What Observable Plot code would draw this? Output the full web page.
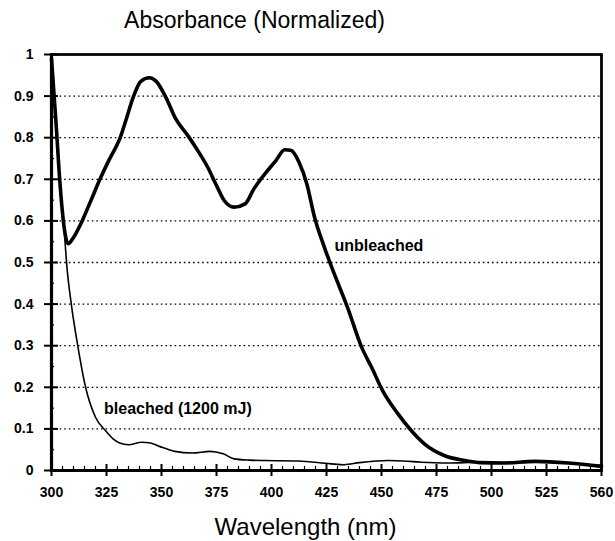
<!DOCTYPE html>
<html><head><meta charset="utf-8">
<script src="https://cdn.jsdelivr.net/npm/d3@7"></script>
<script src="https://cdn.jsdelivr.net/npm/@observablehq/plot@0.6"></script>
<style>body{margin:0;background:#fff}</style>
</head><body><div id="chart"></div>
<script>
// Wavelength (nm) / normalized absorbance
const unbleachedX = [300, 302, 304, 306, 307.5, 310, 313.5, 318, 322, 326.5, 331, 334, 337, 340.5, 344.5, 347.5, 352, 356.5, 362, 366.5, 371, 375, 378.5, 383, 388, 392, 397, 402, 406, 409, 412.5, 416, 419.5, 424, 428.5, 434.5, 441, 445.5, 450.5, 457.5, 463.5, 469.5, 478.5, 488, 495, 505, 520, 535, 550];
const unbleachedY = [0.99, 0.84, 0.68, 0.575, 0.545, 0.56, 0.595, 0.65, 0.70, 0.75, 0.797, 0.845, 0.895, 0.935, 0.944, 0.936, 0.897, 0.845, 0.805, 0.769, 0.729, 0.685, 0.649, 0.633, 0.641, 0.677, 0.713, 0.745, 0.771, 0.769, 0.741, 0.69, 0.61, 0.537, 0.473, 0.393, 0.296, 0.248, 0.192, 0.136, 0.096, 0.064, 0.036, 0.024, 0.019, 0.018, 0.022, 0.018, 0.01];
const bleachedX = [300, 302, 304, 306, 307, 309, 312, 315.5, 320, 324.5, 328, 331, 335, 341, 345, 349, 356, 364, 372, 378, 383, 390, 397, 412, 427, 433, 440, 453, 460, 468, 480, 495, 505, 520, 535, 550];
const bleachedY = [0.99, 0.84, 0.68, 0.56, 0.49, 0.40, 0.298, 0.20, 0.128, 0.096, 0.076, 0.066, 0.062, 0.068, 0.066, 0.058, 0.046, 0.042, 0.046, 0.04, 0.028, 0.025, 0.024, 0.023, 0.016, 0.014, 0.019, 0.024, 0.023, 0.02, 0.018, 0.02, 0.019, 0.022, 0.018, 0.012];

const xDomain = [300, 550];
const yDomain = [0, 1];
const xTicks = [300, 325, 350, 375, 400, 425, 450, 475, 500, 525, 550];
const xTickLabels = ["300", "325", "350", "375", "400", "425", "450", "475", "500", "525", "560"];
const yTicks = [0, 0.1, 0.2, 0.3, 0.4, 0.5, 0.6, 0.7, 0.8, 0.9, 1];
const yTickLabels = ["0", "0.1", "0.2", "0.3", "0.4", "0.5", "0.6", "0.7", "0.8", "0.9", "1"];
const gridValues = [0.1, 0.2, 0.3, 0.4, 0.5, 0.6, 0.7, 0.8, 0.9];
const xMinorTicks = d3.range(300, 551, 5).filter(v => v % 25 !== 0);
const yMinorTicks = [0.05, 0.15, 0.25, 0.35, 0.45, 0.55, 0.65, 0.75, 0.85, 0.95];

const seriesLabels = ["unbleached", "bleached (1200 mJ)"];
const seriesLabelX = [428.6, 323.9];
const seriesLabelY = [0.541, 0.147];

const titleText = "Absorbance (Normalized)";
const xLabelText = "Wavelength (nm)";

const W = 615, H = 541, mL = 51, mR = 14, mT = 54, mB = 71;
const frameW = W - mL - mR, frameH = H - mT - mB;

const unbleached = unbleachedX.map((x, i) => ({x, y: unbleachedY[i]}));
const bleached = bleachedX.map((x, i) => ({x, y: bleachedY[i]}));
const labels = seriesLabels.map((t, i) => ({t, x: seriesLabelX[i], y: seriesLabelY[i]}));
// plot border, from the scale domains
const border = [[xDomain[0], yDomain[1]], [xDomain[1], yDomain[1]], [xDomain[1], yDomain[0]]];
const axesL = [[xDomain[0], yDomain[1]], [xDomain[0], yDomain[0]], [xDomain[1], yDomain[0]]];

const chart = Plot.plot({
  width: W, height: H,
  marginLeft: mL, marginRight: mR, marginTop: mT, marginBottom: mB,
  x: {domain: xDomain},
  y: {domain: yDomain},
  style: "font-family: Liberation Sans, Arial, sans-serif; background: #fff; color: #000;",
  marks: [
    Plot.ruleY(gridValues, {y: d => d, stroke: "#000", strokeWidth: 1.3, strokeDasharray: "1.6,3", insetLeft: 4}),
    Plot.frame({stroke: "#000", strokeWidth: 2.5}),
    Plot.line(border, {x: d => d[0], y: d => d[1], stroke: "#000", strokeWidth: 2.2}),
    Plot.line(axesL, {x: d => d[0], y: d => d[1], stroke: "#000", strokeWidth: 3.2}),
    Plot.axisX({ticks: xTicks, tickFormat: d => xTickLabels[xTicks.indexOf(d)], tickSize: 6, tickPadding: 11,
      fontSize: 14, fontWeight: "bold", label: null, stroke: "#000", strokeWidth: 2}),
    Plot.tickX(xTicks, {x: d => d, insetTop: frameH - 6, stroke: "#000", strokeWidth: 2}),
    Plot.tickX(xMinorTicks, {x: d => d, insetTop: frameH - 4, stroke: "#000", strokeWidth: 1.2}),
    Plot.axisY({ticks: yTicks, tickFormat: d => yTickLabels[yTicks.indexOf(d)], tickSize: 7, tickPadding: 11,
      fontSize: 14, fontWeight: "bold", label: null, stroke: "#000", strokeWidth: 2}),
    Plot.tickY(yTicks, {y: d => d, insetRight: frameW - 7, stroke: "#000", strokeWidth: 2}),
    Plot.tickY(yMinorTicks, {y: d => d, insetRight: frameW - 3, stroke: "#000", strokeWidth: 1.2}),
    Plot.line(bleached, {x: "x", y: "y", stroke: "#000", strokeWidth: 1.6, curve: "monotone-x"}),
    Plot.line(unbleached, {x: "x", y: "y", stroke: "#000", strokeWidth: 3.6, curve: "monotone-x"}),
    Plot.text(labels, {x: "x", y: "y", text: "t", textAnchor: "start", lineAnchor: "middle",
      fontSize: 16, fontWeight: "bold", fill: "#000"}),
    Plot.text([titleText], {text: d => d, frameAnchor: "top-left", dx: 203, dy: -27, textAnchor: "middle",
      lineAnchor: "bottom", fontSize: 23, fill: "#000"}),
    Plot.text([xLabelText], {text: d => d, frameAnchor: "bottom", dx: -21, dy: 64, textAnchor: "middle",
      lineAnchor: "bottom", fontSize: 24, fill: "#000"})
  ]
});
document.getElementById("chart").append(chart);
</script>
</body></html>
